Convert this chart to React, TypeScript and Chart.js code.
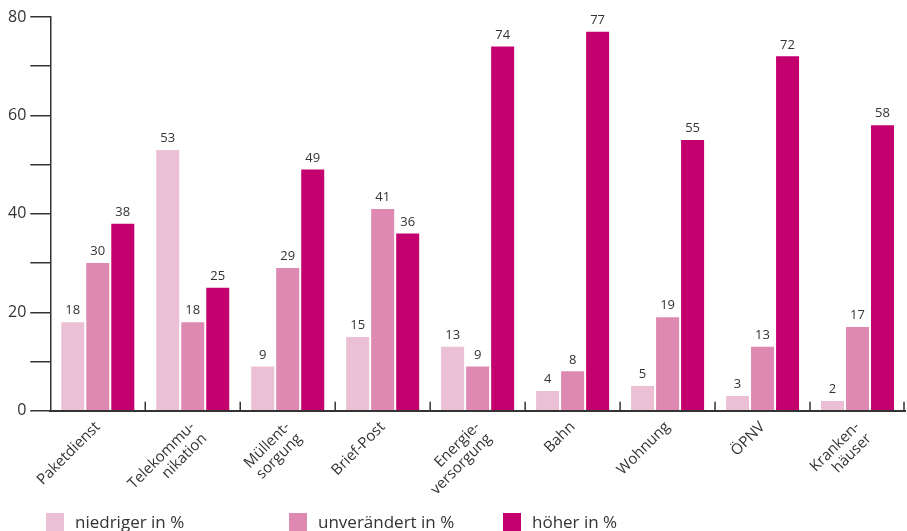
import React, { useEffect, useRef } from "react";
import { Chart, registerables } from "chart.js";

Chart.register(...registerables);

const categories: string[][] = [
  ["Paketdienst"],
  ["Telekommu-", "nikation"],
  ["Müllent-", "sorgung"],
  ["Brief-Post"],
  ["Energie-", "versorgung"],
  ["Bahn"],
  ["Wohnung"],
  ["ÖPNV"],
  ["Kranken-", "häuser"],
];

const seriesNames = ["niedriger in %", "unverändert in %", "höher in %"];
const niedriger = [18, 53, 9, 15, 13, 4, 5, 3, 2];
const unveraendert = [30, 18, 29, 41, 9, 8, 19, 13, 17];
const hoeher = [38, 25, 49, 36, 74, 77, 55, 72, 58];
const seriesColors = ["#ebc0d5", "#dd89b1", "#c4006f"];

const yMin = 0;
const yMax = 80;
const yStep = 10;
const yLabelStep = 20;

const FONT = "'Open Sans', 'Noto Sans', sans-serif";
const TEXT = "#333333";

const valueLabels = {
  id: "valueLabels",
  afterDatasetsDraw(chart: any) {
    const ctx = chart.ctx;
    ctx.save();
    ctx.font = `13px ${FONT}`;
    ctx.fillStyle = TEXT;
    ctx.textAlign = "center";
    ctx.textBaseline = "bottom";
    chart.data.datasets.forEach((ds: any, i: number) => {
      const meta = chart.getDatasetMeta(i);
      meta.data.forEach((el: any, j: number) => {
        ctx.fillText(String(ds.data[j]), el.x, el.y - 5);
      });
    });
    ctx.restore();
  },
};

const boundaryTicks = {
  id: "boundaryTicks",
  afterDraw(chart: any) {
    const xs = chart.scales.x;
    const ctx = chart.ctx;
    const n = chart.data.labels.length;
    const bottom = chart.chartArea.bottom;
    ctx.save();
    ctx.strokeStyle = TEXT;
    ctx.lineWidth = 1.5;
    for (let i = 1; i <= n; i++) {
      let x: number;
      if (i === n) x = xs.right - 1;
      else x = (xs.getPixelForValue(i - 1) + xs.getPixelForValue(i)) / 2;
      ctx.beginPath();
      ctx.moveTo(x, bottom);
      ctx.lineTo(x, bottom - 9);
      ctx.stroke();
    }
    ctx.restore();
  },
};

export default function App() {
  const ref = useRef<HTMLCanvasElement | null>(null);

  useEffect(() => {
    if (!ref.current) return;
    const data = [niedriger, unveraendert, hoeher];
    const chart = new Chart(ref.current, {
      type: "bar",
      data: {
        labels: categories,
        datasets: seriesNames.map((name, i) => ({
          label: name,
          data: data[i],
          backgroundColor: seriesColors[i],
          categoryPercentage: 0.79,
          barPercentage: 0.92,
        })),
      },
      options: {
        animation: false,
        responsive: false,
        maintainAspectRatio: false,
        layout: { padding: { top: 17, left: 4, right: 2, bottom: 19 } },
        plugins: { legend: { display: false }, tooltip: { enabled: false } },
        scales: {
          x: {
            grid: { display: false, drawTicks: false },
            border: { display: true, color: TEXT, width: 2 },
            ticks: {
              color: TEXT,
              font: { family: FONT, size: 15, lineHeight: 1.1 },
              minRotation: 45,
              maxRotation: 45,
              padding: 8,
              autoSkip: false,
            },
          },
          y: {
            min: yMin,
            max: yMax,
            grid: {
              drawOnChartArea: false,
              drawTicks: true,
              tickLength: 20,
              color: TEXT,
              lineWidth: 1.5,
            },
            border: { display: true, color: TEXT, width: 1.5 },
            ticks: {
              stepSize: yStep,
              color: TEXT,
              font: { family: FONT, size: 16 },
              padding: 4,
              callback: (v: any) => (Number(v) % yLabelStep === 0 ? String(v) : ""),
            },
          },
        },
      },
      plugins: [valueLabels, boundaryTicks],
    });
    return () => chart.destroy();
  }, []);

  const legendLeft = [46, 289, 503];

  return (
    <div style={{ position: "fixed", left: 0, top: 0, width: 907, height: 531, background: "#fff", overflow: "hidden" }}>
      <canvas ref={ref} width={907} height={531} style={{ display: "block" }} />
      {seriesNames.map((name, i) => (
        <div
          key={name}
          style={{
            position: "absolute",
            left: legendLeft[i],
            top: 512,
            display: "flex",
            alignItems: "center",
            fontFamily: FONT,
            fontSize: 17,
            color: TEXT,
            whiteSpace: "nowrap",
            lineHeight: "19px",
          }}
        >
          <span style={{ display: "inline-block", width: 18, height: 18, background: seriesColors[i], marginRight: 11 }} />
          {name}
        </div>
      ))}
    </div>
  );
}
